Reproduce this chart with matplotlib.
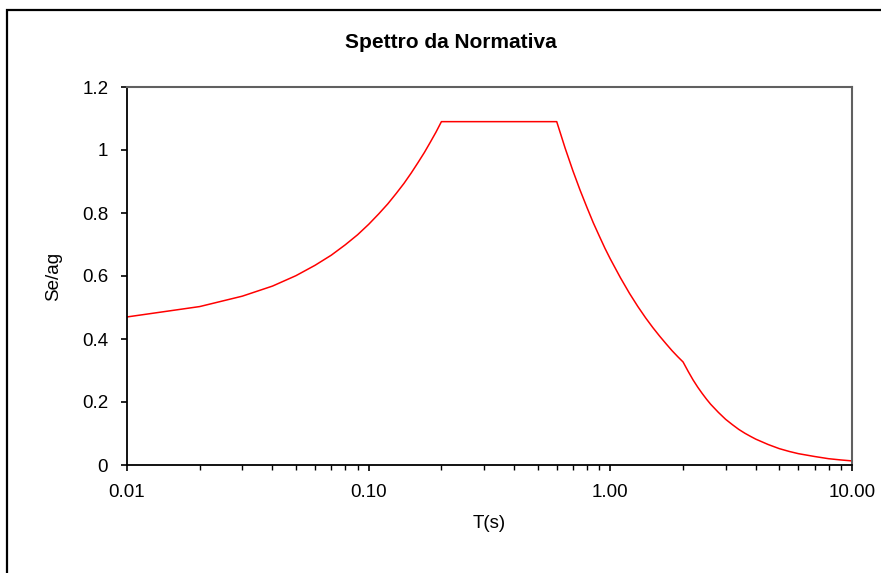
import matplotlib.pyplot as plt
from matplotlib.patches import Rectangle
from matplotlib.ticker import FixedLocator, LogLocator, NullFormatter

plt.rcParams['font.family'] = ['Liberation Sans', 'DejaVu Sans']

# Period T (s) and normalized spectral acceleration Se/ag
period = [0.01, 0.02, 0.03, 0.04, 0.05, 0.06, 0.07, 0.08, 0.09, 0.10,
          0.11, 0.12, 0.13, 0.14, 0.15, 0.16, 0.17, 0.18, 0.19, 0.20, 0.60,
          0.65, 0.70, 0.75, 0.80, 0.85, 0.90, 0.95, 1.00,
          1.10, 1.20, 1.30, 1.40, 1.50, 1.60, 1.70, 1.80, 1.90, 2.00,
          2.10, 2.20, 2.30, 2.40, 2.50, 2.60, 2.80, 3.00, 3.20, 3.40, 3.60, 3.80,
          4.00, 4.50, 5.00, 5.50, 6.00, 7.00, 8.00, 9.00, 10.00]
se_ag = [0.470, 0.503, 0.536, 0.568, 0.601, 0.634, 0.666, 0.699, 0.731, 0.764,
         0.797, 0.829, 0.862, 0.894, 0.927, 0.960, 0.992, 1.025, 1.057, 1.090, 1.090,
         1.006, 0.934, 0.872, 0.818, 0.769, 0.727, 0.688, 0.654,
         0.595, 0.545, 0.503, 0.467, 0.436, 0.409, 0.385, 0.363, 0.344, 0.327,
         0.297, 0.270, 0.247, 0.227, 0.209, 0.193, 0.167, 0.145, 0.128, 0.113, 0.101, 0.091,
         0.082, 0.065, 0.052, 0.043, 0.036, 0.027, 0.020, 0.016, 0.013]

x_ticks = [0.01, 0.1, 1, 10]
x_tick_labels = ['0.01', '0.10', '1.00', '10.00']
y_ticks = [0, 0.2, 0.4, 0.6, 0.8, 1.0, 1.2]
y_tick_labels = ['0', '0.2', '0.4', '0.6', '0.8', '1', '1.2']

fig = plt.figure(figsize=(8.81, 5.73), dpi=100)
ax = fig.add_axes([127 / 881, 1 - 465 / 573, 725 / 881, 378 / 573])

ax.plot(period, se_ag, color='red', lw=1.1)

ax.set_xscale('log')
ax.set_xlim(0.01, 10)
ax.set_ylim(0, 1.2)
ax.xaxis.set_major_locator(FixedLocator(x_ticks))
ax.set_xticklabels(x_tick_labels)
ax.xaxis.set_minor_locator(LogLocator(base=10, subs=range(2, 10)))
ax.xaxis.set_minor_formatter(NullFormatter())
ax.set_yticks(y_ticks)
ax.set_yticklabels(y_tick_labels)

ax.tick_params(axis='both', which='major', direction='out', length=4.5,
               width=1.2, labelsize=13.5, pad=9, color='black')
ax.tick_params(axis='x', which='minor', direction='out', length=3.5, width=1.0)

for side in ['left', 'bottom']:
    ax.spines[side].set_color('black')
    ax.spines[side].set_linewidth(1.3)
for side in ['top', 'right']:
    ax.spines[side].set_color('#606060')
    ax.spines[side].set_linewidth(1.5)

ax.set_xlabel('T(s)', fontsize=13.5, labelpad=10)
ax.set_ylabel('Se/ag', fontsize=13.5, labelpad=14)
fig.text(451 / 881, 1 - 42 / 573, 'Spettro da Normativa', ha='center', va='center',
         fontsize=15, fontweight='bold')

# outer chart border (runs off the right and bottom of the image)
fig.patches.append(Rectangle((7 / 881, -0.1), 2, 1.1 - 10 / 573, transform=fig.transFigure,
                             fill=False, edgecolor='black', lw=1.6, clip_on=False))

fig.savefig('out.png', dpi=100)
